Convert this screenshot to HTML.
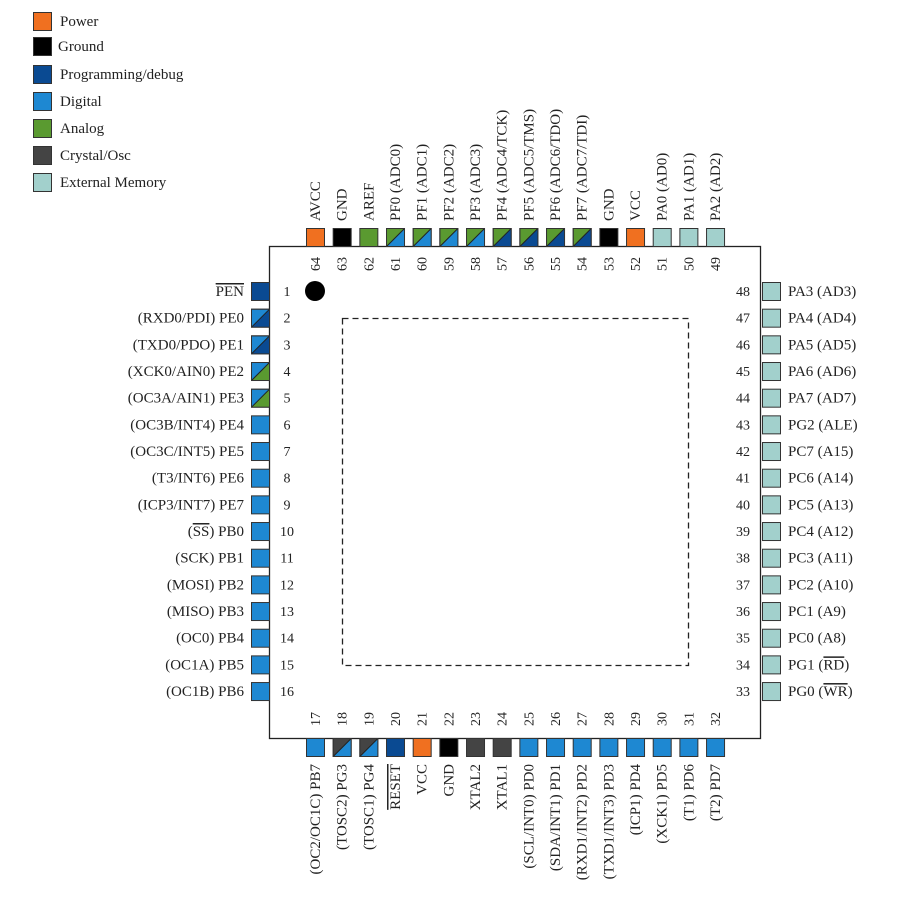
<!DOCTYPE html>
<html><head><meta charset="utf-8"><style>
html,body{margin:0;padding:0;background:#fff}
svg text{font-family:"Liberation Serif",serif;font-size:15px;fill:#222}
.n{font-size:14px}
.o{text-decoration:overline}
</style></head><body>
<svg width="900" height="900" viewBox="0 0 900 900" xmlns="http://www.w3.org/2000/svg">
<defs>
<style>
.s{stroke:#333;stroke-width:1}
</style>
</defs>
<g>
<rect class="s" x="33.5" y="12.5" width="18" height="18" fill="#f07020"/><text x="60" y="26">Power</text>
<rect class="s" x="33.5" y="37.5" width="18" height="18" fill="#000"/><text x="58" y="51">Ground</text>
<rect class="s" x="33.5" y="65.5" width="18" height="18" fill="#0a4a92"/><text x="60" y="79">Programming/debug</text>
<rect class="s" x="33.5" y="92.5" width="18" height="18" fill="#1e88d2"/><text x="60" y="106">Digital</text>
<rect class="s" x="33.5" y="119.5" width="18" height="18" fill="#5a9a30"/><text x="60" y="133">Analog</text>
<rect class="s" x="33.5" y="146.5" width="18" height="18" fill="#444"/><text x="60" y="160">Crystal/Osc</text>
<rect class="s" x="33.5" y="173.5" width="18" height="18" fill="#a2d0cc"/><text x="60" y="187">External Memory</text>
</g>
<rect x="269.5" y="246.5" width="491" height="492" fill="#fff" stroke="#222" stroke-width="1.3"/>
<rect x="342.5" y="318.5" width="346" height="347" fill="none" stroke="#222" stroke-width="1.3" stroke-dasharray="6,4"/>
<circle cx="315" cy="291" r="10" fill="#000"/>
<g id="pins"></g>
</svg>
<script>
(function(){
const C={P:"#f07020",G:"#000",D:"#0a4a92",I:"#1e88d2",A:"#5a9a30",X:"#444",M:"#a2d0cc"};
const g=document.getElementById('pins');
let h='';
function sq(x,y,a,b){
 h+=`<rect x="${x+.5}" y="${y+.5}" width="18" height="18" fill="${C[a]}" stroke="#333"/>`;
 if(b){h+=`<polygon points="${x+.5},${y+18.5} ${x+18.5},${y+18.5} ${x+18.5},${y+.5}" fill="${C[b]}"/>`+
 `<line x1="${x+.5}" y1="${y+18.5}" x2="${x+18.5}" y2="${y+.5}" stroke="#222"/>`+
 `<rect x="${x+.5}" y="${y+.5}" width="18" height="18" fill="none" stroke="#333"/>`;}
}
const sp=26.67;
const L=[["<tspan class='o'>PEN</tspan>","D"],["(RXD0/PDI) PE0","I","D"],["(TXD0/PDO) PE1","I","D"],["(XCK0/AIN0) PE2","I","A"],["(OC3A/AIN1) PE3","I","A"],["(OC3B/INT4) PE4","I"],["(OC3C/INT5) PE5","I"],["(T3/INT6) PE6","I"],["(ICP3/INT7) PE7","I"],["(<tspan class='o'>SS</tspan>) PB0","I"],["(SCK) PB1","I"],["(MOSI) PB2","I"],["(MISO) PB3","I"],["(OC0) PB4","I"],["(OC1A) PB5","I"],["(OC1B) PB6","I"]];
L.forEach((p,k)=>{const y=291+sp*k;sq(251,y-9,p[1],p[2]);
 h+=`<text x="244" y="${y+5}" text-anchor="end">${p[0]}</text><text class="n" x="287" y="${y+5}" text-anchor="middle">${k+1}</text>`;});
const R=["PA3 (AD3)","PA4 (AD4)","PA5 (AD5)","PA6 (AD6)","PA7 (AD7)","PG2 (ALE)","PC7 (A15)","PC6 (A14)","PC5 (A13)","PC4 (A12)","PC3 (A11)","PC2 (A10)","PC1 (A9)","PC0 (A8)","PG1 (<tspan class='o'>RD</tspan>)","PG0 (<tspan class='o'>WR</tspan>)"];
R.forEach((t,k)=>{const y=291+sp*k;sq(762,y-9,"M");
 h+=`<text x="788" y="${y+5}">${t}</text><text class="n" x="743" y="${y+5}" text-anchor="middle">${48-k}</text>`;});
const T=[["AVCC","P"],["GND","G"],["AREF","A"],["PF0 (ADC0)","A","I"],["PF1 (ADC1)","A","I"],["PF2 (ADC2)","A","I"],["PF3 (ADC3)","A","I"],["PF4 (ADC4/TCK)","A","D"],["PF5 (ADC5/TMS)","A","D"],["PF6 (ADC6/TDO)","A","D"],["PF7 (ADC7/TDI)","A","D"],["GND","G"],["VCC","P"],["PA0 (AD0)","M"],["PA1 (AD1)","M"],["PA2 (AD2)","M"]];
T.forEach((p,k)=>{const x=315+sp*k;sq(x-9,228,p[1],p[2]);
 h+=`<text transform="translate(${x+5},221) rotate(-90)">${p[0]}</text><text class="n" transform="translate(${x+5},264) rotate(-90)" text-anchor="middle">${64-k}</text>`;});
const B=[["(OC2/OC1C) PB7","I"],["(TOSC2) PG3","X","I"],["(TOSC1) PG4","X","I"],["<tspan class='o'>RESET</tspan>","D"],["VCC","P"],["GND","G"],["XTAL2","X"],["XTAL1","X"],["(SCL/INT0) PD0","I"],["(SDA/INT1) PD1","I"],["(RXD1/INT2) PD2","I"],["(TXD1/INT3) PD3","I"],["(ICP1) PD4","I"],["(XCK1) PD5","I"],["(T1) PD6","I"],["(T2) PD7","I"]];
B.forEach((p,k)=>{const x=315+sp*k;sq(x-9,738,p[1],p[2]);
 h+=`<text transform="translate(${x+5},764) rotate(-90)" text-anchor="end">${p[0]}</text><text class="n" transform="translate(${x+5},719) rotate(-90)" text-anchor="middle">${17+k}</text>`;});
g.innerHTML=h;
})();
</script>
</body></html>
